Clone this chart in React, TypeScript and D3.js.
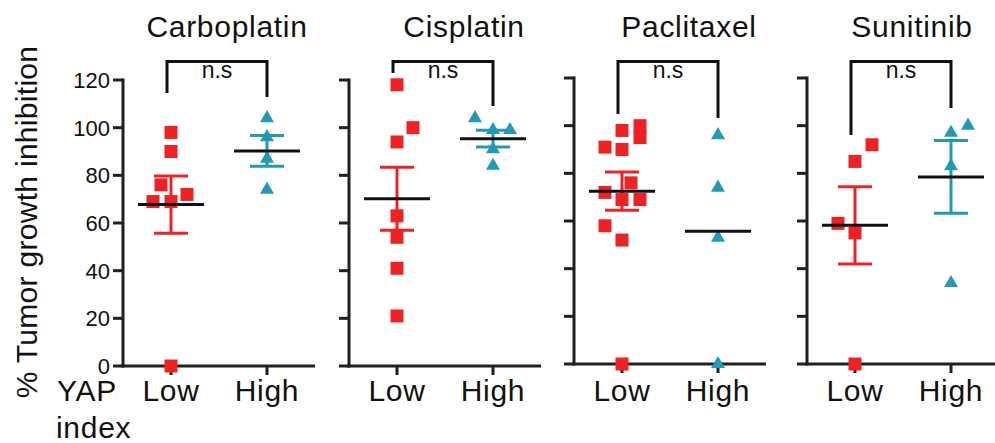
import React from "react";
import * as d3 from "d3";

// ---------- data ----------
const drugs = ["Carboplatin", "Cisplatin", "Paclitaxel", "Sunitinib"];
const groups = ["Low", "High"];
const lowValues = [
  [98, 90, 76, 72, 69, 69, 0],
  [118, 100, 94, 63, 54, 41, 21],
  [100, 98, 95, 91, 90, 76, 72, 69, 69, 58, 52, 0],
  [92, 85, 59, 55, 0],
];
const highValues = [
  [104, 96, 87, 74],
  [104, 99, 99, 91, 84],
  [96, 74, 53, 0],
  [97, 100, 83, 34],
];
const yTicks = [0, 20, 40, 60, 80, 100, 120];
const significance = ["n.s", "n.s", "n.s", "n.s"];
const showHighError = [true, true, false, true];
const yLabel = "% Tumor growth inhibition";
const xGroupLabel = ["YAP", "index"];

// ---------- layout ----------
const W = 995;
const H = 443;
const panelX = [123, 349, 574, 807];
const panelYShift = [0, 0, -2, -2];
const titleX = [227, 464, 689, 912];
const lowJitter = [
  [0, 0, -10, 16, -18, 0, 0],
  [0, 16, 0, 0, 0, 0, 0],
  [18, 0, 18, -17, 0, 9, -17, 0, 18, -17, 0, 0],
  [17, 0, -17, 0, 0],
];
const highJitter = [
  [0, 0, 0, 0],
  [-18, 0, 17, 0, 0],
  [0, 0, 0, 0],
  [0, 17, 0, 0],
];
const bracketLegs = [
  [93, 97],
  [73, 106],
  [114, 118],
  [135, 108],
];
const RED = "#ed2224";
const TEAL = "#2399b3";
const AXIS = "#231f20";
const FONT = "'Liberation Sans', Arial, Helvetica, sans-serif";

const squarePath = d3.symbol(d3.symbolSquare, 169)()!;
const trianglePath = d3.symbol(d3.symbolTriangle, 85)()!;

function stats(v: number[]) {
  const m = d3.mean(v)!;
  const sem = d3.deviation(v)! / Math.sqrt(v.length);
  return { m, sem };
}

function Panel({ i }: { i: number }) {
  const x0 = panelX[i];
  const dy = panelYShift[i];
  const y = d3.scaleLinear().domain([0, 120]).range([366 + dy, 80 + dy]);
  const x = d3.scalePoint<string>().domain(groups).range([x0 + 48, x0 + 144]);
  const axisEnd = x0 + 192;
  const lowX = x("Low")!;
  const highX = x("High")!;
  const ls = stats(lowValues[i]);
  const hs = stats(highValues[i]);
  const meanHalf = 33;
  const capHalf = 17;
  const bTop = 61.5;

  const errBar = (cx: number, s: { m: number; sem: number }, color: string) => (
    <g stroke={color} strokeWidth={3} fill="none">
      <line x1={cx} x2={cx} y1={y(s.m + s.sem)} y2={y(s.m - s.sem)} />
      <line x1={cx - capHalf} x2={cx + capHalf} y1={y(s.m + s.sem)} y2={y(s.m + s.sem)} />
      <line x1={cx - capHalf} x2={cx + capHalf} y1={y(s.m - s.sem)} y2={y(s.m - s.sem)} />
    </g>
  );

  return (
    <g>
      {/* title */}
      <text x={titleX[i]} y={37} textAnchor="middle" fontSize={30} letterSpacing={0.7} fill="#111">
        {drugs[i]}
      </text>
      {/* bracket */}
      <path
        d={`M${lowX - 4},${bracketLegs[i][0]}V${bTop}H${highX}V${bracketLegs[i][1]}`}
        fill="none"
        stroke="#111"
        strokeWidth={3}
      />
      <text x={(lowX - 4 + highX) / 2} y={78} textAnchor="middle" fontSize={23} fill="#111">
        {significance[i]}
      </text>
      {/* axes */}
      <g stroke={AXIS} strokeWidth={3}>
        <line x1={x0} x2={x0} y1={y(120) - 1.5} y2={y(0) + 1.5} />
        <line x1={x0 - 1.5} x2={axisEnd} y1={y(0)} y2={y(0)} />
        {yTicks.map((t) => (
          <line key={t} x1={x0 - 10} x2={x0} y1={y(t)} y2={y(t)} />
        ))}
        {groups.map((g) => (
          <line key={g} x1={x(g)!} x2={x(g)!} y1={y(0)} y2={y(0) + 9} />
        ))}
      </g>
      {i === 0 &&
        yTicks.map((t) => (
          <text key={t} x={x0 - 13} y={y(t) + 8} textAnchor="end" fontSize={22} fill="#111">
            {t}
          </text>
        ))}
      {groups.map((g) => (
        <text key={g} x={x(g)!} y={401} textAnchor="middle" fontSize={30} letterSpacing={0.7} fill="#111">
          {g}
        </text>
      ))}
      {/* points */}
      {lowValues[i].map((v, j) => (
        <path key={"l" + j} d={squarePath} transform={`translate(${lowX + lowJitter[i][j]},${y(v)})`} fill={RED} />
      ))}
      {highValues[i].map((v, j) => (
        <path key={"h" + j} d={trianglePath} transform={`translate(${highX + highJitter[i][j]},${y(v)})`} fill={TEAL} />
      ))}
      {/* error bars */}
      {errBar(lowX, ls, RED)}
      {showHighError[i] && errBar(highX, hs, TEAL)}
      {/* means */}
      <g stroke="#111" strokeWidth={3}>
        <line x1={lowX - meanHalf} x2={lowX + meanHalf} y1={y(ls.m)} y2={y(ls.m)} />
        <line x1={highX - meanHalf} x2={highX + meanHalf} y1={y(hs.m)} y2={y(hs.m)} />
      </g>
    </g>
  );
}

export default function App() {
  return (
    <svg
      width={W}
      height={H}
      viewBox={`0 0 ${W} ${H}`}
      style={{ position: "absolute", left: 0, top: 0, background: "#fff", fontFamily: FONT }}
    >
      <rect width={W} height={H} fill="#fff" />
      {drugs.map((_, i) => (
        <Panel key={i} i={i} />
      ))}
      <text
        transform={`translate(37,222) rotate(-90)`}
        textAnchor="middle"
        fontSize={30}
        letterSpacing={0.3}
        fill="#111"
      >
        {yLabel}
      </text>
      <text x={57} y={401} fontSize={30} letterSpacing={0.7} fill="#111">
        {xGroupLabel[0]}
      </text>
      <text x={56} y={438} fontSize={30} letterSpacing={0.7} fill="#111">
        {xGroupLabel[1]}
      </text>
    </svg>
  );
}
